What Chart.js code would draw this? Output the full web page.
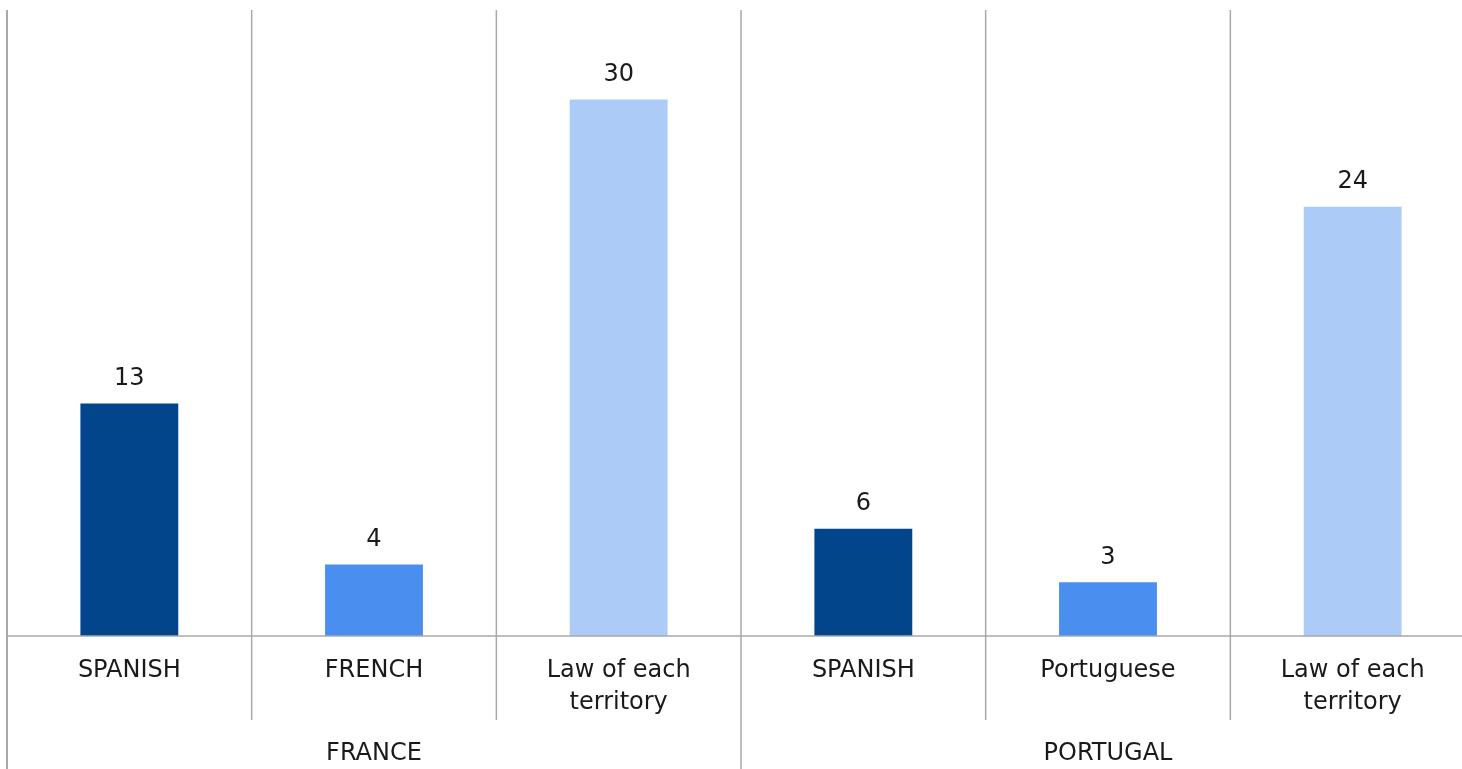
<!DOCTYPE html>
<html>
<head>
<meta charset="utf-8">
<script src="https://cdn.jsdelivr.net/npm/chart.js@4"></script>
<style>
  html, body { margin: 0; padding: 0; background: #fff; overflow: hidden; }
  #wrap { width: 1476px; height: 769px; }
</style>
</head>
<body>
<div id="wrap"><canvas id="barChart" width="1476" height="769"></canvas></div>
<script>
// chart data
const categories = [['SPANISH'], ['FRENCH'], ['Law of each', 'territory'], ['SPANISH'], ['Portuguese'], ['Law of each', 'territory']];
const groups = ['FRANCE', 'PORTUGAL'];
const groupSize = [3, 3];
const values = [13, 4, 30, 6, 3, 24];
const barColors = ['#03458A', '#4A8FEF', '#ADCBF7', '#03458A', '#4A8FEF', '#ADCBF7'];

const FONT = '"DejaVu Sans", sans-serif';
const LINE = '#a9a9a9';

// draws value labels, category labels, group labels and the separator lines
const decorations = {
    id: 'decorations',
    afterDraw(chart) {
        const ctx = chart.ctx;
        const x = chart.scales.x;
        const y = chart.scales.y;
        const area = chart.chartArea;
        const half = (x.getPixelForValue(1) - x.getPixelForValue(0)) / 2;
        const bottom = chart.height;

        ctx.save();
        ctx.strokeStyle = LINE;
        ctx.lineWidth = 1.5;

        // baseline
        const base = y.getPixelForValue(0);
        ctx.beginPath();
        ctx.moveTo(area.left, base);
        ctx.lineTo(area.right, base);
        ctx.stroke();

        // vertical separators
        let groupEdges = [0];
        let acc = 0;
        groupSize.forEach(n => { acc += n; groupEdges.push(acc); });
        for (let i = 0; i <= categories.length; i++) {
            const px = x.getPixelForValue(0) - half + i * 2 * half;
            const endY = groupEdges.includes(i) ? bottom : 720;
            ctx.lineWidth = i === 0 ? 2 : 1.5;
            ctx.beginPath();
            ctx.moveTo(px, area.top);
            ctx.lineTo(px, endY);
            ctx.stroke();
        }

        ctx.fillStyle = '#1a1a1a';
        ctx.textAlign = 'center';
        ctx.textBaseline = 'middle';
        ctx.font = '24px ' + FONT;

        // value labels
        const meta = chart.getDatasetMeta(0);
        meta.data.forEach((bar, i) => {
            ctx.fillText(String(values[i]), bar.x, bar.y - 25);
        });

        // category labels
        categories.forEach((lines, i) => {
            const cx = x.getPixelForValue(i);
            lines.forEach((t, j) => {
                ctx.fillText(t, cx, 671 + j * 32);
            });
        });

        // group labels
        let start = 0;
        groups.forEach((g, gi) => {
            const left = x.getPixelForValue(start) - half;
            const right = x.getPixelForValue(start + groupSize[gi] - 1) + half;
            ctx.fillText(g, (left + right) / 2, 754);
            start += groupSize[gi];
        });
        ctx.restore();
    }
};

const ctx = document.getElementById('barChart').getContext('2d');
new Chart(ctx, {
    type: 'bar',
    data: {
        labels: categories.map(c => c.join(' ')),
        datasets: [{
            data: values,
            backgroundColor: barColors,
            borderWidth: 0,
            categoryPercentage: 1,
            barPercentage: 0.4
        }]
    },
    options: {
        responsive: false,
        animation: false,
        layout: { padding: { left: 7, top: 10, right: 1, bottom: 0 } },
        plugins: {
            legend: { display: false },
            tooltip: { enabled: false }
        },
        scales: {
            x: {
                grid: { display: false },
                border: { display: false },
                ticks: { display: false },
                afterFit(scale) { scale.height = 133; }
            },
            y: {
                display: false,
                min: 0,
                max: 35
            }
        }
    },
    plugins: [decorations]
});
</script>
</body>
</html>
